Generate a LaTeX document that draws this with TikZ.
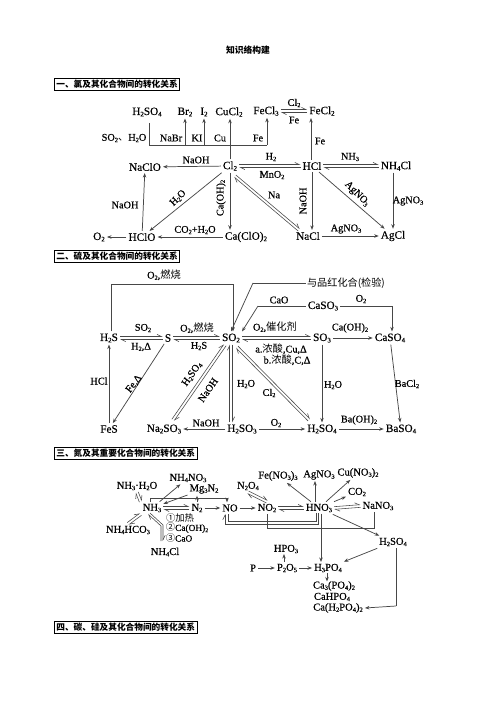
\documentclass[tikz,border=0pt]{standalone}
\usepackage{fontspec}
\setmainfont{Liberation Serif}[FakeBold=0.4]
\newfontfamily\cjk{Noto Sans CJK SC}
\usetikzlibrary{arrows.meta,calc}
\newcommand\xb[1]{\raisebox{-.28ex}{\scalebox{.62}{#1}}}
\newcommand\zh[1]{{\cjk #1}}
\tikzset{
  x=.75pt,y=-.75pt,
  chem/.style={inner sep=1.4pt,font=\fontsize{8.4}{9}\selectfont},
  chemb/.style={inner sep=1.4pt,font=\fontsize{7.9}{9}\selectfont},
  lab/.style={inner sep=0pt,font=\fontsize{7.7}{8}\selectfont},
  head/.style={draw,line width=.6pt,inner xsep=1.5pt,inner ysep=0pt,minimum height=8.6pt,anchor=west,font=\cjk\bfseries\fontsize{6.5}{7}\selectfont},
  ar/.style={line width=.55pt,draw=black!72,-{Stealth[length=3.4pt,width=2.6pt]}},
  ln/.style={line width=.55pt,draw=black!72},
  hp/.style={line width=.42pt,draw=black!72,-{Straight Barb[left,length=3.4pt,width=3.4pt]}},
}
% double reaction line between two points
\newcommand\dbl[2]{%
  \draw[hp] ($#1!1pt!90:#2$) -- ($#2!1pt!-90:#1$);
  \draw[hp] ($#2!1pt!90:#1$) -- ($#1!1pt!-90:#2$);}
\begin{document}
\begin{tikzpicture}
\useasboundingbox (0,0) rectangle (496,702);
\fill[white] (0,0) rectangle (496,702);
\node[inner sep=0pt,font=\cjk\bfseries\fontsize{6.6}{7}\selectfont] (title) at (248,50) {知识络构建};
\node[head] (h1) at (54,84.5) {一、氯及其化合物间的转化关系};
\node[head] (h2) at (54,256.5) {二、硫及其化合物间的转化关系};
\node[head] (h3) at (54,453.5) {三、氮及其重要化合物间的转化关系};
\node[head] (h4) at (54,627.5) {四、碳、硅及其化合物间的转化关系};

% ---------- section 1
\node[chem] (a1) at (147,112) {H\xb{2}SO\xb{4}};
\node[chem] (a2) at (185,112) {Br\xb{2}};
\node[chem] (a3) at (204,112) {I\xb{2}};
\node[chem] (a4) at (229,112) {CuCl\xb{2}};
\node[chem] (a5) at (266,111) {FeCl\xb{3}};
\node[chem] (a6) at (322,111) {FeCl\xb{2}};
\node[lab] at (294,103) {Cl\xb{2}};
\node[lab] at (294,120) {Fe};
\dbl{(a5.east)}{(a6.west)}
\node[lab] at (124,138) {SO\xb{2}\zh{、}H\xb{2}O};
\node[lab] at (171,138) {NaBr};
\node[lab] at (197,138) {KI};
\node[lab] at (220,138) {Cu};
\node[lab] at (258,138) {Fe};
\coordinate (b1) at (149,145); \coordinate (b2) at (267,145);
\draw[ln] (149,123) -- (b1) -- (b2);
\draw[ar] (b2) -- (a5.south -| b2);
\draw[ar] (b1 -| a2) -- (a2);
\draw[ar] (b1 -| a3) -- (a3);

\node[chem] (cl) at (230,166) {Cl\xb{2}};
\node[chem] (naclo) at (145,167) {NaClO};
\node[chem] (hclo) at (142,237) {HClO};
\node[chem] (o2) at (99,237) {O\xb{2}};
\node[chem] (caclo) at (246,237) {Ca(ClO)\xb{2}};
\node[chem] (hcl) at (312,166) {HCl};
\node[chem] (nh4cl) at (396,166) {NH\xb{4}Cl};
\node[chem] (nacl) at (308,236) {NaCl};
\node[chem] (agcl) at (393,236) {AgCl};
\draw[ar] (cl.north) -- (cl.north |- a4.south);
\draw[ar] (cl) -- (naclo);
\draw[ar] (hclo) -- (o2);
\draw[ar] (hclo) -- (naclo);
\draw[ar] (cl) -- (hclo);
\draw[ar] (caclo) -- (hclo);
\draw[ar] (cl.south) -- (cl.south |- caclo.north);
\dbl{(cl.east)}{(hcl.west)}
\dbl{(hcl.east)}{(nh4cl.west)}
\dbl{([shift={(5,10)}]cl.center)}{([shift={(-9,-6)}]nacl.center)}
\draw[ar] (nacl) -- (agcl);
\draw[ar] (hcl.south) -- (hcl.south |- nacl.north);
\draw[ar] (hcl) -- (agcl);
\draw[ar] (nh4cl.south -| agcl) -- (agcl);
\draw[ar] (311,160) -- (311,118);
\node[lab] at (196,160) {NaOH};
\node[lab] at (125,205) {NaOH};
\node[lab,rotate=45] at (178,198) {H\xb{2}O};
\node[lab] at (195,230) {CO\xb{2}+H\xb{2}O};
\node[lab,rotate=90] at (221,198) {Ca(OH)\xb{2}};
\node[lab] at (271,157) {H\xb{2}};
\node[lab] at (272,175) {MnO\xb{2}};
\node[lab] at (274,195) {Na};
\node[lab] at (350,157) {NH\xb{3}};
\node[lab,rotate=90] at (303,201) {NaOH};
\node[lab,rotate=-45] at (357,194) {AgNO\xb{3}};
\node[lab] at (408,201) {AgNO\xb{3}};
\node[lab] at (346,229) {AgNO\xb{3}};
\node[lab] at (320,141) {Fe};

% ---------- section 2
\node[chem] (h2s) at (109,338) {H\xb{2}S};
\node[chem] (s) at (168,338) {S};
\node[chem] (so2) at (231,338) {SO\xb{2}};
\node[chem] (so3) at (322,338) {SO\xb{3}};
\node[chem] (caso4) at (390,338) {CaSO\xb{4}};
\node[chem] (caso3) at (323,306) {CaSO\xb{3}};
\node[chem] (fes) at (109,429) {FeS};
\node[chem] (na2so3) at (164,429) {Na\xb{2}SO\xb{3}};
\node[chem] (h2so3) at (242,429) {H\xb{2}SO\xb{3}};
\node[chem] (h2so4) at (322,429) {H\xb{2}SO\xb{4}};
\node[chem] (baso4) at (401,429) {BaSO\xb{4}};
\node[inner sep=1pt,font=\cjk\fontsize{7.6}{8}\selectfont] (pin) at (346,283) {与品红化合(检验)};
\coordinate (c1) at (111,284); \coordinate (c2) at (233,284);
\draw[ln] (h2s.north -| c1) -- (c1) -- (c2);
\draw[ar] (c2) -- (c2 |- so2.north);
\coordinate (c3) at (253,283);
\draw[ln] (pin.west) -- (c3);
\draw[ar] (c3) -- (so2.north);
\coordinate (c4) at (258,306);
\draw[ln] (caso3.west) -- (c4);
\draw[ar] (c4) -- (so2.north east);
\coordinate (c5) at (392,306);
\draw[ln] (caso3.east) -- (c5);
\draw[ar] (c5) -- (c5 |- caso4.north);
\dbl{(h2s.east)}{(s.west)}
\dbl{(s.east)}{(so2.west)}
\dbl{(so2.east)}{(so3.west)}
\draw[ar] (so3) -- (caso4);
\draw[ar] (fes) -- (h2s);
\draw[ar] (s) -- (fes);
\draw[ar] (h2so3) -- (na2so3);
\dbl{([shift={(-6,7)}]so2.center)}{([shift={(9,-9)}]na2so3.center)}
\dbl{(so2.south)}{(so2.south |- h2so3.north)}
\dbl{([shift={(6,9)}]so2.center)}{([shift={(-13,-9)}]h2so4.center)}
\draw[ar] (h2so3) -- (h2so4);
\draw[ar] (h2so4) -- (baso4);
\draw[ar] (so3.south) -- (so3.south |- h2so4.north);
\draw[ar] (caso4) -- (baso4);
\node[lab] at (164,275) {O\xb{2},\zh{燃烧}};
\node[lab] at (143,328) {SO\xb{2}};
\node[lab] at (141,347) {H\xb{2},Δ};
\node[lab] at (197,328) {O\xb{2},\zh{燃烧}};
\node[lab] at (199,346) {H\xb{2}S};
\node[lab] at (99,381) {HCl};
\node[lab,rotate=52] at (134,384) {Fe,Δ};
\node[lab] at (206,423) {NaOH};
\node[lab,rotate=55] at (192,374) {H\xb{2}SO\xb{4}};
\node[lab,rotate=55] at (208,390) {NaOH};
\node[lab] at (246,384) {H\xb{2}O};
\node[lab] at (269,393) {Cl\xb{2}};
\node[lab] at (279,300) {CaO};
\node[lab] at (361,299) {O\xb{2}};
\node[lab] at (275,327) {O\xb{2},\zh{催化剂}};
\node[lab] at (350,328) {Ca(OH)\xb{2}};
\node[lab] at (281,349) {a.\zh{浓酸},Cu,Δ};
\node[lab] at (287,360) {b.\zh{浓酸},C,Δ};
\node[lab] at (276,423) {O\xb{2}};
\node[lab] at (359,420) {Ba(OH)\xb{2}};
\node[lab] at (333,385) {H\xb{2}O};
\node[lab] at (407,384) {BaCl\xb{2}};

% ---------- section 3
\node[chemb] (nw) at (137,486) {NH\xb{3}·H\xb{2}O};
\node[chemb] (nn) at (188,478) {NH\xb{4}NO\xb{3}};
\node[chemb] (mg) at (204,489) {Mg\xb{3}N\xb{2}};
\node[chemb] (nh3) at (152,508) {NH\xb{3}};
\node[chemb] (n2) at (197,508) {N\xb{2}};
\node[chemb] (no) at (230,508) {NO};
\node[chemb] (no2) at (267,508) {NO\xb{2}};
\node[chemb] (hno3) at (319,508) {HNO\xb{3}};
\node[chemb] (nabi) at (128,530) {NH\xb{4}HCO\xb{3}};
\node[chemb] (nhcl) at (165,552) {NH\xb{4}Cl};
\node[chemb] (n2o4) at (248,486) {N\xb{2}O\xb{4}};
\node[chemb] (fen) at (278,476) {Fe(NO\xb{3})\xb{3}};
\node[chemb] (agn) at (319,475) {AgNO\xb{3}};
\node[chemb] (cun) at (358,473) {Cu(NO\xb{3})\xb{2}};
\node[chemb] (co2) at (357,492) {CO\xb{2}};
\node[chemb] (nano) at (378,506) {NaNO\xb{3}};
\node[chemb] (hs) at (393,542) {H\xb{2}SO\xb{4}};
\node[chemb] (hpo) at (286,549) {HPO\xb{3}};
\node[chemb] (p) at (253,568) {P};
\node[chemb] (p2o5) at (287,568) {P\xb{2}O\xb{5}};
\node[chemb] (h3p) at (328,568) {H\xb{3}PO\xb{4}};
\node[chemb] (ca1) at (334,586) {Ca\xb{3}(PO\xb{4})\xb{2}};
\node[chemb] (ca2) at (332,597) {CaHPO\xb{4}};
\node[chemb] (ca3) at (338,608) {Ca(H\xb{2}PO\xb{4})\xb{2}};
\node[lab,font=\fontsize{7}{8}\selectfont] at (180,518) {\zh{①加热}};
\node[lab,font=\fontsize{7}{8}\selectfont] at (187,528) {\zh{②}Ca(OH)\xb{2}};
\node[lab,font=\fontsize{7}{8}\selectfont] at (179,538) {\zh{③}CaO};

\draw[ar] (nh3) -- (nn);
\draw[ar] (mg) -- (nh3);
\draw[ar] (n2) -- (n2 |- mg.south);
\dbl{(nh3.east)}{(n2.west)}
\draw[ar] (n2) -- (no);
\coordinate (d1) at (150,498); \coordinate (d2) at (227,498);
\draw[ln] (nh3.north -| d1) -- (d1) -- (d2);
\draw[ar] (d2) -- (no.north -| d2);
\dbl{(nw.south)}{(nh3.north west)}
\dbl{(nh3.south west)}{(nabi.north)}
\coordinate (d3) at (163,525);
\draw[hp] (150,513) -- (d3) -- (163,541);
\draw[hp] (161,541) -- (161,526) -- (148,514);
\draw[ar] (no) -- (no2);
\dbl{(no2.east)}{(hno3.west)}
\dbl{(n2o4.south)}{(no2.north)}
\draw[ar] (hno3) -- (fen);
\draw[ar] (hno3.north -| 315,0) -- (315,481);
\draw[ar] (hno3) -- (cun);
\draw[ar] (hno3) -- (co2);
\dbl{(hno3.east)}{(nano.west)}
\draw[ln] (nano.south -| 374,0) -- (374,528) -- (267,528) -- (no2.south);
\draw[hp] (318,513) -- (318,524) -- (225,524) -- (225,514);
\draw[ln] (316,513) -- (316,521.5) -- (228,521.5) -- (228,514);
\draw[ar] (hno3) -- (hs);
\draw[ar] (321,513.5) -- (321,562);
\draw[ar] (hs) -- (h3p);
\coordinate (d4) at (396,606);
\draw[ln] (hs.south -| d4) -- (d4);
\draw[ar] (d4) -- (ca3.east);
\draw[ar] (p) -- (p2o5);
\draw[ar] (p2o5.north -| 284,0) -- (284,554);
\draw[ar] (p2o5) -- (h3p);
\draw[ar] (327,573) -- (327,581.5);
\end{tikzpicture}
\end{document}
